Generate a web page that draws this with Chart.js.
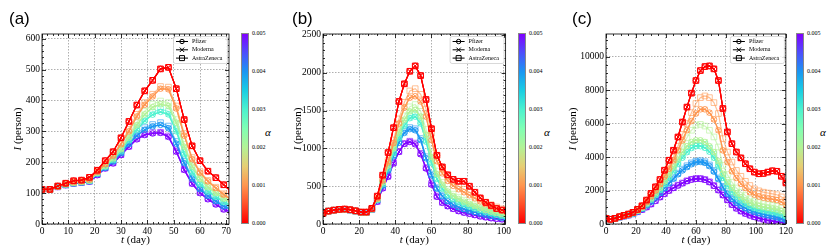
<!DOCTYPE html>
<html>
<head>
<meta charset="utf-8">
<script src="https://cdn.jsdelivr.net/npm/chart.js@4.4.1/dist/chart.umd.min.js"></script>
<style>
  body { margin: 0; background: #fff; }
  #wrap { position: relative; width: 830px; height: 250px; overflow: hidden; font-family: "Liberation Serif", serif; }
  .panel { position: absolute; top: 0; height: 250px; }
  .cbar { position: absolute; top: 33px; width: 8px; height: 191px; box-sizing: border-box; border: 1px solid #888;
    background: linear-gradient(to bottom, rgb(128,0,255) 0%, rgb(77,79,252) 10%, rgb(26,150,242) 20%, rgb(26,206,227) 30%,
      rgb(77,242,206) 40%, rgb(128,255,180) 50%, rgb(179,242,150) 60%, rgb(230,206,116) 70%, rgb(255,150,79) 80%,
      rgb(255,79,40) 90%, rgb(255,0,0) 100%); }
  .cbtick { position: absolute; font-size: 6px; line-height: 6px; color: #000; white-space: nowrap; }
  .alpha { position: absolute; top: 126px; font-size: 11px; font-style: italic; }
</style>
</head>
<body>
<div id="wrap">
  <div class="panel" style="left:0;width:236px"><canvas id="chartA"></canvas></div>
  <div class="panel" style="left:280px;width:233px"><canvas id="chartB"></canvas></div>
  <div class="panel" style="left:555px;width:240px"><canvas id="chartC"></canvas></div>
</div>
<script>
// vaccination rate levels (colour bar) and vaccine names
const alphaTicks = ["0.000", "0.001", "0.002", "0.003", "0.004", "0.005"];
const vaccines = ["Pfizer", "Moderna", "AstraZeneca"];
const levelColors = ["255,0,0", "255,150,79", "179,242,150", "77,242,206", "26,150,242", "128,0,255"];

// axis ticks
const xTicksA = [0, 10, 20, 30, 40, 50, 60, 70];
const yTicksA = [0, 100, 200, 300, 400, 500, 600];
const xTicksB = [0, 20, 40, 60, 80, 100];
const yTicksB = [0, 500, 1000, 1500, 2000, 2500];
const xTicksC = [0, 20, 40, 60, 80, 100, 120];
const yTicksC = [0, 2000, 4000, 6000, 8000, 10000];

// (a) days and infected counts
const daysA = [0,3,6,9,12,15,18,21,24,27,30,33,36,39,42,45,48,51,54,57,60,63,66,69,72];
const A_a0    = [112,112,123,132,140,142,151,174,205,234,279,332,385,431,465,502,507,438,338,253,205,171,150,127,104];
const A_a1_az = [112,112,122,130,136,139,145,170,196,224,262,306,355,393,420,445,443,382,293,215,170,141,119,98,80];
const A_a1_pm = [112,112,122,130,136,139,144,169,194,221,258,300,348,386,413,438,436,374,286,210,166,138,116,95,77];
const A_a2_az = [112,112,122,129,134,137,142,167,190,215,247,287,328,365,388,398,393,338,258,192,151,124,104,86,72];
const A_a2_pm = [112,112,122,129,134,137,141,166,188,212,242,280,320,355,378,387,382,328,250,186,146,119,100,82,68];
const A_a3_az = [112,112,121,128,133,136,140,165,187,210,239,276,312,342,362,372,364,308,233,173,135,109,91,74,61];
const A_a3_pm = [112,112,121,128,133,136,140,164,185,207,235,271,305,334,354,363,355,300,226,167,130,105,88,71,58];
const A_a4_az = [112,112,121,127,132,135,139,163,184,205,233,264,292,312,322,328,317,267,203,152,117,95,77,60,49];
const A_a4_pm = [112,112,121,127,132,135,139,162,182,202,229,259,286,305,316,321,310,260,197,147,113,91,74,57,46];
const A_a5_az = [112,112,120,126,131,134,138,160,181,198,225,252,277,291,296,297,285,237,178,134,103,83,66,49,40];
const A_a5_pm = [112,112,120,126,131,134,137,158,180,196,223,250,274,288,293,295,282,234,175,130,100,80,63,47,38];

// (b)
const daysB = [0,3,6,9,12,15,18,21,24,27,30,33,36,39,42,45,48,51,54,57,60,63,66,69,72,75,78,81,84,87,90,93,96,99,102];
const B_a0    = [141,171,184,194,198,189,175,158,158,207,369,646,945,1274,1621,1854,2020,2091,1963,1647,1261,909,755,650,590,565,565,500,420,345,285,245,205,185,170];
const B_a1_az = [141,170,183,192,195,186,172,156,155,200,345,590,840,1110,1390,1610,1760,1790,1715,1520,1200,905,730,620,550,500,460,420,375,330,290,255,225,200,175];
const B_a1_pm = [141,170,183,192,195,186,172,156,155,199,340,575,815,1070,1330,1540,1670,1690,1620,1420,1110,830,670,570,505,460,420,380,340,300,262,230,202,178,155];
const B_a2_az = [141,170,183,192,194,185,171,155,154,198,335,560,790,1030,1250,1430,1550,1580,1490,1250,940,700,550,455,395,350,315,285,255,225,198,175,155,138,122];
const B_a2_pm = [141,170,183,192,194,185,171,155,154,197,330,548,770,1000,1210,1380,1490,1510,1420,1180,885,660,520,430,370,330,295,265,237,210,185,163,145,128,113];
const B_a3_az = [141,170,182,191,194,185,171,155,153,196,325,535,750,960,1170,1330,1430,1450,1360,1120,830,615,480,395,340,300,270,240,215,190,168,148,130,115,102];
const B_a3_pm = [141,170,182,191,194,185,171,155,153,195,322,525,735,940,1140,1300,1400,1420,1330,1090,805,595,465,380,327,288,258,230,205,182,160,141,124,110,97];
const B_a4_az = [141,169,182,191,193,184,170,154,152,194,318,515,720,915,1100,1230,1275,1260,1130,890,660,480,375,308,262,228,202,182,163,145,128,112,99,88,79];
const B_a4_pm = [141,169,182,191,193,184,170,154,152,193,314,505,705,895,1075,1205,1255,1240,1110,870,645,468,365,300,255,222,197,177,158,140,124,108,96,85,76];
const B_a5_az = [141,169,181,190,192,183,169,153,151,191,300,480,640,810,960,1065,1095,1070,935,745,535,370,290,242,207,178,157,141,125,108,95,83,74,67,60];
const B_a5_pm = [141,169,181,190,192,183,169,153,151,190,294,470,623,800,953,1060,1085,1054,922,734,520,360,280,235,200,170,150,135,118,100,88,76,68,62,55];

// (c)
const daysC = [0,3,6,9,12,15,18,21,24,27,30,33,36,39,42,45,48,51,54,57,60,63,66,69,72,75,78,81,84,87,90,93,96,99,102,105,108,111,114,117,120];
const C_a0    = [339,280,339,435,518,595,696,875,1089,1429,1827,2220,2659,3214,3810,4405,5198,6091,6984,7817,8571,9167,9405,9444,9266,8571,6900,5500,4800,4300,3950,3600,3300,3100,3000,3020,3100,3180,3150,2850,2450];
const C_a1_az = [339,280,337,430,510,585,680,850,1050,1350,1700,2050,2450,2950,3450,4000,4650,5350,6000,6650,7200,7550,7650,7550,7250,6600,5100,4300,3700,3200,2850,2550,2300,2100,1980,1900,1850,1800,1750,1620,1420];
const C_a1_pm = [339,280,336,428,505,578,670,835,1030,1320,1650,1990,2370,2830,3300,3800,4400,5000,5600,6150,6600,6850,6850,6650,6250,5600,4400,3700,3150,2750,2400,2150,1900,1750,1640,1570,1520,1480,1430,1320,1120];
const C_a2_az = [339,280,335,425,500,570,660,820,1000,1270,1580,1900,2250,2680,3120,3580,4120,4650,5150,5600,5900,5950,5850,5600,5200,4600,3500,2950,2500,2150,1900,1700,1500,1370,1280,1210,1160,1110,1060,960,800];
const C_a2_pm = [339,280,334,422,495,563,650,805,975,1230,1520,1820,2150,2540,2950,3380,3850,4300,4650,4900,5000,5000,4900,4650,4300,3750,3000,2500,2150,1830,1600,1420,1260,1150,1070,1010,960,910,860,770,640];
const C_a3_az = [339,280,333,420,492,558,645,795,960,1200,1480,1770,2080,2450,2850,3250,3700,4100,4450,4720,4850,4850,4750,4520,4150,3600,2900,2400,2020,1720,1480,1290,1130,1020,940,880,830,780,730,640,520];
const C_a3_pm = [339,280,332,418,488,553,638,785,945,1180,1450,1730,2030,2390,2770,3150,3580,3960,4290,4540,4650,4650,4550,4320,3960,3450,2750,2280,1920,1630,1400,1210,1060,950,870,810,760,710,660,580,470];
const C_a4_az = [339,280,330,414,482,545,625,765,920,1130,1360,1610,1880,2170,2470,2760,3040,3280,3480,3650,3750,3780,3720,3530,3200,2750,2250,1850,1550,1320,1140,990,870,770,690,620,560,500,440,370,290];
const C_a4_pm = [339,280,330,413,480,542,620,758,910,1115,1340,1585,1850,2130,2420,2700,2970,3200,3400,3570,3680,3710,3650,3460,3130,2680,2180,1790,1500,1270,1090,940,820,720,640,570,510,450,390,320,250];
const C_a5_az = [339,280,328,405,468,528,605,730,865,1020,1200,1400,1620,1820,2010,2170,2320,2450,2580,2670,2720,2720,2660,2520,2300,2040,1740,1450,1170,950,780,640,530,440,360,290,230,185,150,115,90];
const C_a5_pm = [339,280,327,402,465,523,598,720,850,1000,1180,1380,1600,1800,1990,2150,2300,2430,2560,2650,2700,2700,2640,2500,2280,2020,1720,1430,1150,930,760,620,510,420,340,270,210,170,130,100,80];

const SERIF = '"Liberation Serif", serif';

function series(days, vals, color, style, r) {
  return {
    data: days.map((t, i) => ({ x: t, y: vals[i] })),
    borderColor: color,
    borderWidth: 1.2,
    pointStyle: style,
    pointRadius: r,
    pointBorderWidth: 1,
    pointBorderColor: color,
    pointBackgroundColor: "rgba(0,0,0,0)",
    tension: 0,
  };
}

function buildDatasets(days, red, levels) {
  const sets = [];
  const c0 = "rgb(" + levelColors[0] + ")";
  sets.push(series(days, red, c0, "circle", 2.8));
  sets.push(series(days, red, c0, "crossRot", 3.5));
  sets.push(series(days, red, c0, "rect", 4));
  levels.forEach((lv, k) => {
    const pmCol = "rgba(" + levelColors[k + 1] + ",0.9)";
    const azCol = "rgba(" + levelColors[k + 1] + ",0.6)";
    // Pfizer and Moderna lie on top of each other in the figure
    sets.push(series(days, lv[0], pmCol, "circle", 2.8));
    sets.push(series(days, lv[0], pmCol, "crossRot", 3.5));
    sets.push(series(days, lv[1], azCol, "rect", 4));
  });
  return sets;
}

function mixedText(ctx, italic, plain, cx, cy, size) {
  ctx.font = "italic " + size + "px " + SERIF;
  const w1 = ctx.measureText(italic).width;
  ctx.font = size + "px " + SERIF;
  const w2 = ctx.measureText(plain).width;
  const x0 = cx - (w1 + w2) / 2;
  ctx.textAlign = "left";
  ctx.textBaseline = "middle";
  ctx.font = "italic " + size + "px " + SERIF;
  ctx.fillText(italic, x0, cy);
  ctx.font = size + "px " + SERIF;
  ctx.fillText(plain, x0 + w1, cy);
}

const decorPlugin = {
  id: "decor",
  afterDraw(chart, args, o) {
    const { ctx, chartArea: a, scales: { x, y } } = chart;
    ctx.save();
    ctx.strokeStyle = "#000";
    ctx.lineWidth = 0.8;
    ctx.strokeRect(a.left, a.top, a.right - a.left, a.bottom - a.top);

    // inward major / minor ticks on all four sides
    ctx.beginPath();
    for (let k = 0; k * o.xMinor <= x.max + 1e-9; k++) {
      const v = k * o.xMinor;
      const px = Math.round(x.getPixelForValue(v)) + 0.5;
      const len = (k % (o.xStep / o.xMinor) === 0) ? 4 : 2;
      ctx.moveTo(px, a.bottom); ctx.lineTo(px, a.bottom - len);
      ctx.moveTo(px, a.top); ctx.lineTo(px, a.top + len);
    }
    for (let k = 0; k * o.yMinor <= y.max + 1e-9; k++) {
      const v = k * o.yMinor;
      const py = Math.round(y.getPixelForValue(v)) + 0.5;
      const len = (k % (o.yStep / o.yMinor) === 0) ? 4 : 2;
      ctx.moveTo(a.left, py); ctx.lineTo(a.left + len, py);
      ctx.moveTo(a.right, py); ctx.lineTo(a.right - len, py);
    }
    ctx.stroke();

    // axis titles
    ctx.fillStyle = "#000";
    mixedText(ctx, "t", " (day)", (a.left + a.right) / 2, 240, 11);
    ctx.save();
    ctx.translate(18, (a.top + a.bottom) / 2);
    ctx.rotate(-Math.PI / 2);
    mixedText(ctx, "I", " (person)", 0, 0, 11);
    ctx.restore();

    // panel label
    ctx.font = '17px "Liberation Sans", sans-serif';
    ctx.textAlign = "left";
    ctx.textBaseline = "alphabetic";
    ctx.fillText(o.label, o.labelX, 24);

    // legend box
    const lw = 54, lh = 27;
    const lx = a.right - 2 - lw, ly = a.top + 2;
    ctx.fillStyle = "rgba(255,255,255,0.85)";
    ctx.strokeStyle = "#cfcfcf";
    ctx.lineWidth = 0.8;
    ctx.beginPath();
    ctx.roundRect(lx + 0.5, ly + 0.5, lw, lh, 2);
    ctx.fill();
    ctx.stroke();
    ctx.strokeStyle = "#000";
    ctx.fillStyle = "#000";
    ctx.lineWidth = 1;
    ctx.font = "6px " + SERIF;
    ctx.textBaseline = "middle";
    vaccines.forEach((name, i) => {
      const yy = ly + 5.5 + i * 8.3;
      const mx = lx + 9;
      ctx.beginPath();
      ctx.moveTo(lx + 3, yy); ctx.lineTo(lx + 15, yy);
      if (i === 0) {
        ctx.moveTo(mx + 2.2, yy); ctx.arc(mx, yy, 2.2, 0, Math.PI * 2);
      } else if (i === 1) {
        ctx.moveTo(mx - 2.2, yy - 2.2); ctx.lineTo(mx + 2.2, yy + 2.2);
        ctx.moveTo(mx - 2.2, yy + 2.2); ctx.lineTo(mx + 2.2, yy - 2.2);
      } else {
        ctx.rect(mx - 2.5, yy - 2.5, 5, 5);
      }
      ctx.stroke();
      ctx.fillText(name, lx + 19, yy);
    });
    ctx.restore();
  },
};

function makeChart(canvasId, days, red, levels, p) {
  const ctx = document.getElementById(canvasId).getContext("2d");
  return new Chart(ctx, {
    type: "line",
    data: { datasets: buildDatasets(days, red, levels) },
    options: {
      responsive: true,
      maintainAspectRatio: false,
      animation: false,
      layout: { padding: { top: 34, right: p.padRight, bottom: 0, left: 0 } },
      plugins: {
        legend: { display: false },
        tooltip: { enabled: false },
        decor: p,
      },
      scales: {
        x: {
          type: "linear",
          min: 0,
          max: p.xMax,
          afterBuildTicks: (s) => { s.ticks = p.xTicks.map((v) => ({ value: v })); },
          afterFit: (s) => { s.height = 26; },
          ticks: { padding: 2, color: "#000", font: { family: SERIF, size: 9.5 }, callback: (v) => String(v) },
          grid: { color: "#9a9a9a", lineWidth: 0.8, drawTicks: false },
          border: { display: false, dash: [1.5, 1.5] },
        },
        y: {
          min: 0,
          max: p.yMax,
          afterBuildTicks: (s) => { s.ticks = p.yTicks.map((v) => ({ value: v })); },
          afterFit: (s) => { s.width = p.yWidth; },
          ticks: { padding: 2, color: "#000", font: { family: SERIF, size: 9.5 }, callback: (v) => String(v) },
          grid: { color: "#9a9a9a", lineWidth: 0.8, drawTicks: false },
          border: { display: false, dash: [1.5, 1.5] },
        },
      },
    },
    plugins: [decorPlugin],
  });
}

function buildColorbar(left, alphaLeft) {
  const wrap = document.getElementById("wrap");
  const bar = document.createElement("div");
  bar.className = "cbar";
  bar.style.left = left + "px";
  wrap.appendChild(bar);
  alphaTicks.forEach((t, k) => {
    const el = document.createElement("div");
    el.className = "cbtick";
    el.textContent = t;
    el.style.left = (left + 11) + "px";
    el.style.top = (33 + (5 - k) / 5 * 190 - 3) + "px";
    wrap.appendChild(el);
  });
  const al = document.createElement("div");
  al.className = "alpha";
  al.textContent = "α";
  al.style.left = alphaLeft + "px";
  wrap.appendChild(al);
}

makeChart("chartA", daysA, A_a0,
  [[A_a1_pm, A_a1_az], [A_a2_pm, A_a2_az], [A_a3_pm, A_a3_az], [A_a4_pm, A_a4_az], [A_a5_pm, A_a5_az]],
  { xMax: 71, xTicks: xTicksA, yTicks: yTicksA, xStep: 10, xMinor: 2, yMax: 615, yStep: 100, yMinor: 20, yWidth: 42, padRight: 7, label: "(a)", labelX: 9 });
makeChart("chartB", daysB, B_a0,
  [[B_a1_pm, B_a1_az], [B_a2_pm, B_a2_az], [B_a3_pm, B_a3_az], [B_a4_pm, B_a4_az], [B_a5_pm, B_a5_az]],
  { xMax: 101, xTicks: xTicksB, yTicks: yTicksB, xStep: 20, xMinor: 5, yMax: 2513, yStep: 500, yMinor: 100, yWidth: 43, padRight: 6, label: "(b)", labelX: 12 });
makeChart("chartC", daysC, C_a0,
  [[C_a1_pm, C_a1_az], [C_a2_pm, C_a2_az], [C_a3_pm, C_a3_az], [C_a4_pm, C_a4_az], [C_a5_pm, C_a5_az]],
  { xMax: 120, xTicks: xTicksC, yTicks: yTicksC, xStep: 20, xMinor: 5, yMax: 11350, yStep: 2000, yMinor: 500, yWidth: 51, padRight: 9, label: "(c)", labelX: 17 });

buildColorbar(241, 265);
buildColorbar(518, 544);
buildColorbar(796, 820);
</script>
</body>
</html>
